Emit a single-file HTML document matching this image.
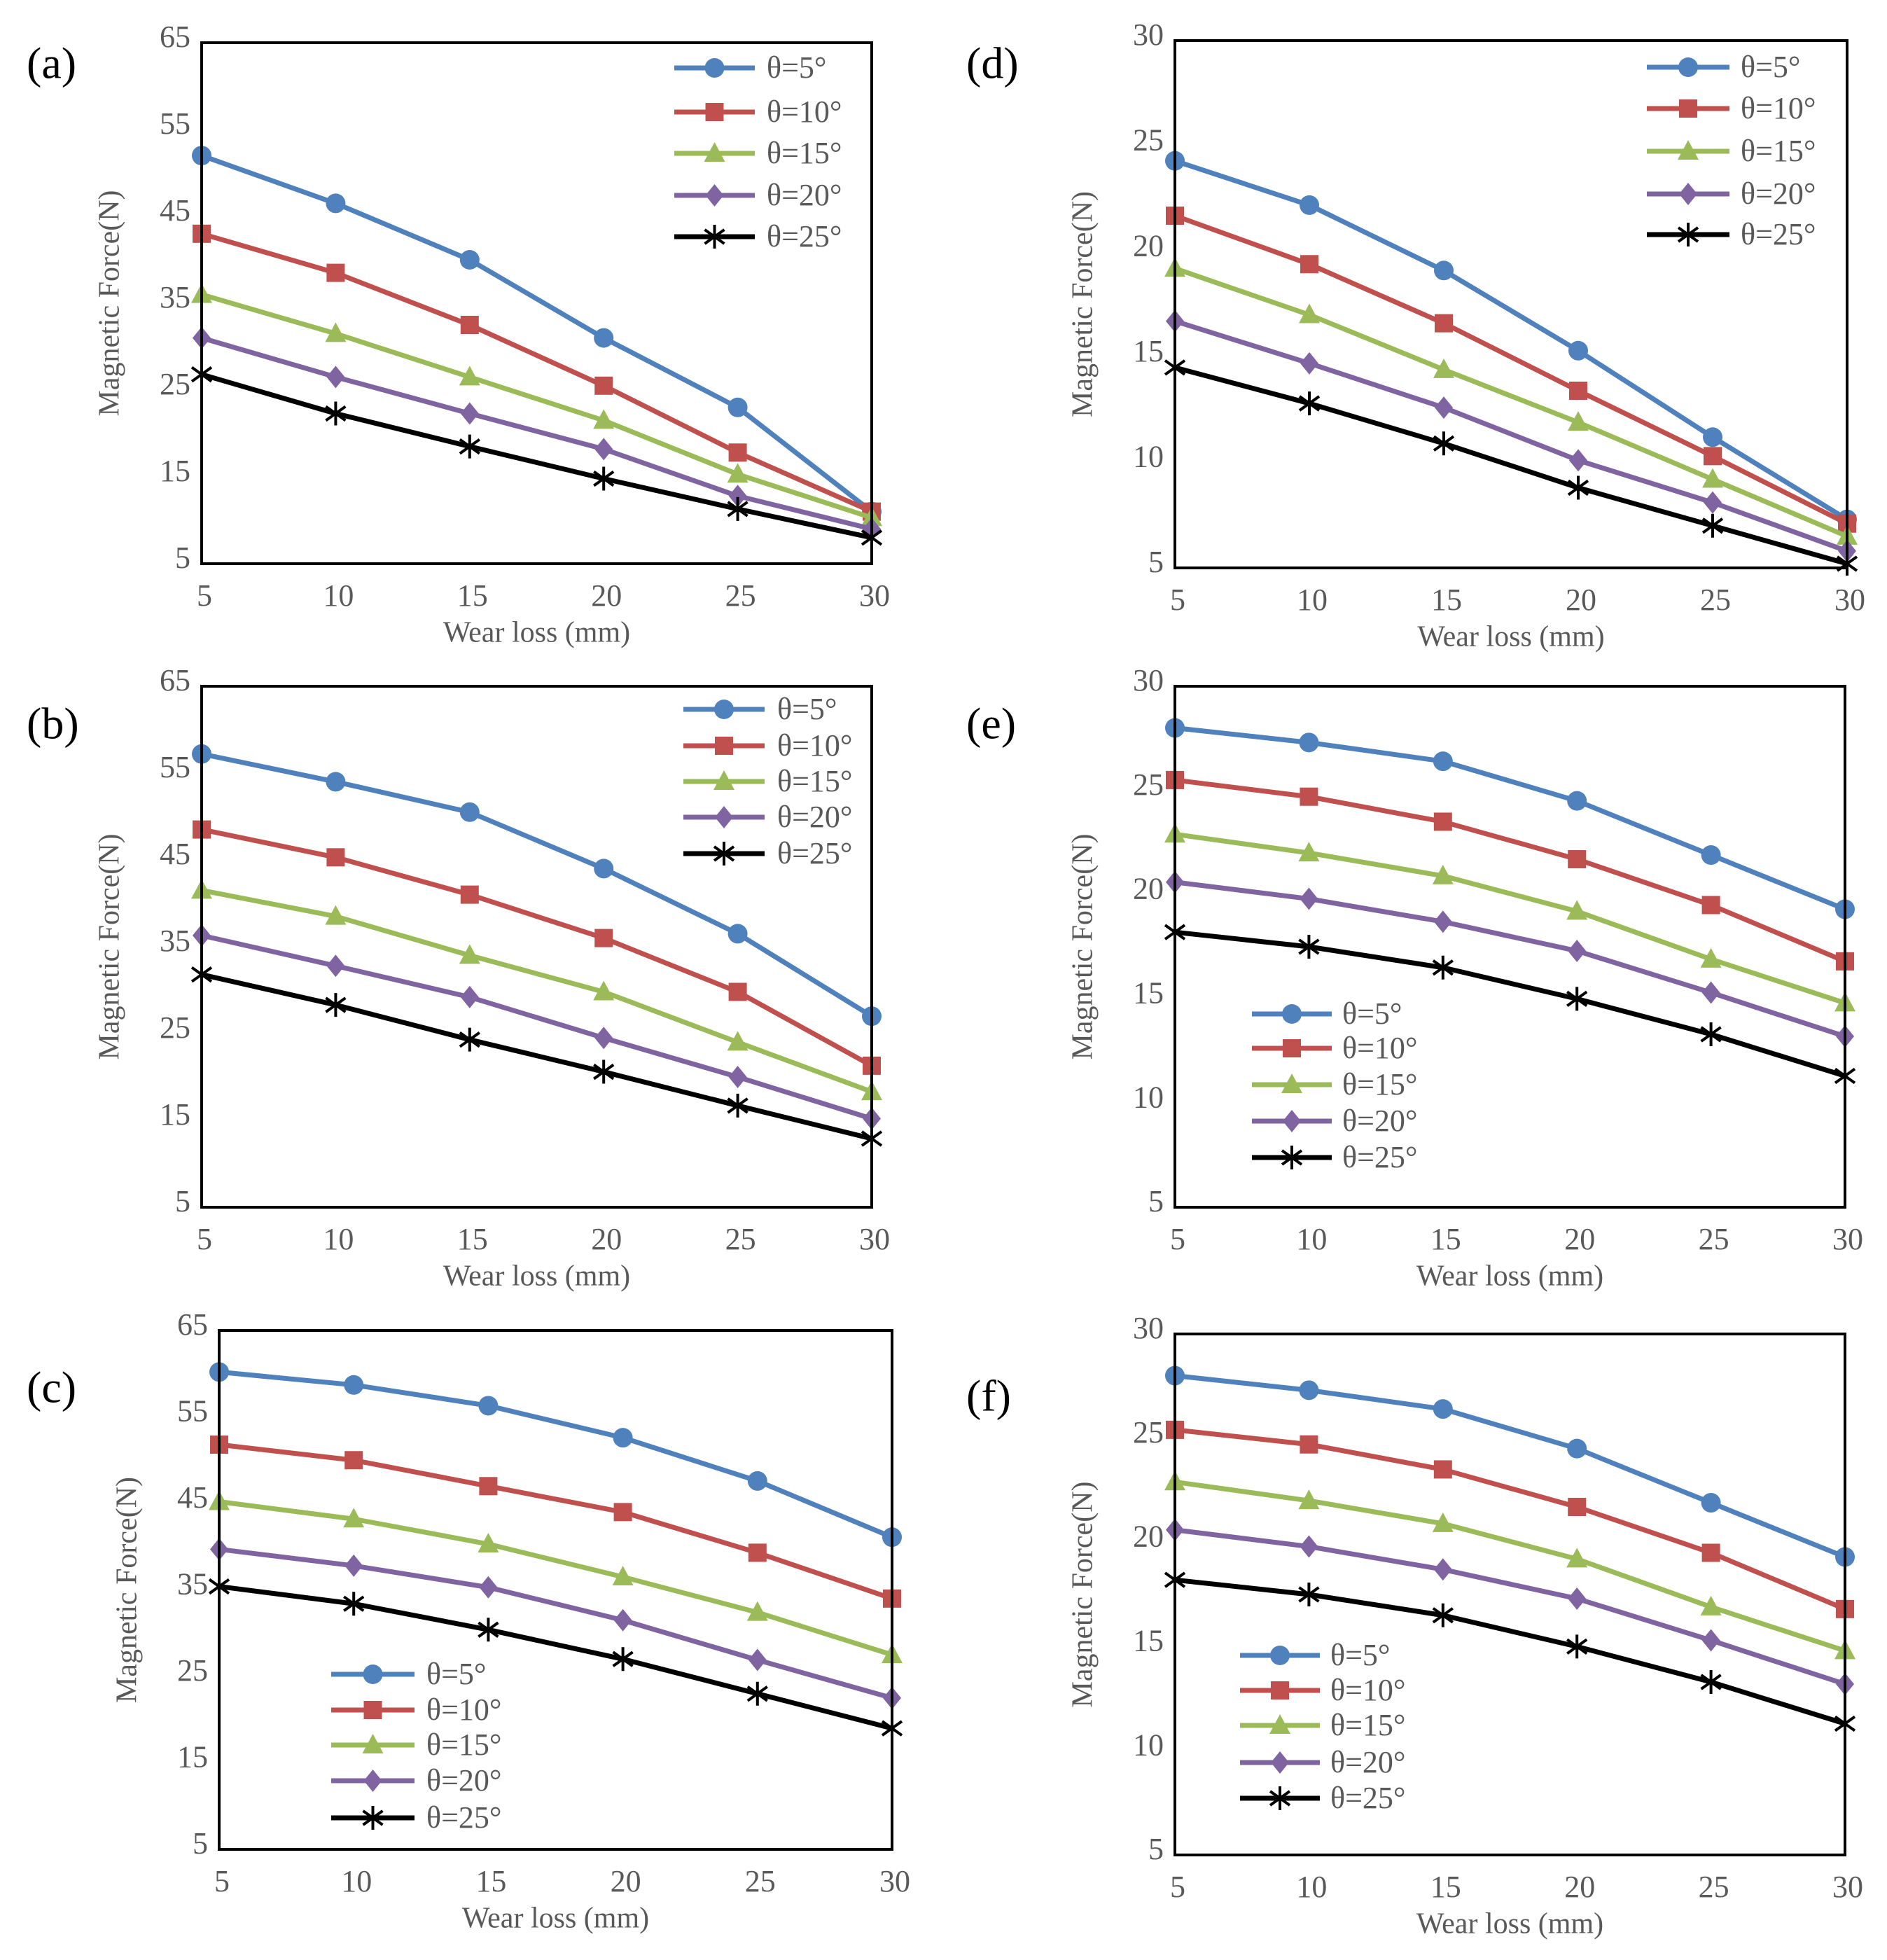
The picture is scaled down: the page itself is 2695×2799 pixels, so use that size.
<!DOCTYPE html>
<html><head><meta charset="utf-8"><style>
html,body{margin:0;padding:0;background:#fff}
svg{display:block}
</style></head><body>
<svg id="fig" width="2695" height="2799" viewBox="0 0 2695 2799" xmlns="http://www.w3.org/2000/svg"></svg>
<script>
const xCategories = [5,10,15,20,25,30];
const seriesLabels = ["θ=5°","θ=10°","θ=15°","θ=20°","θ=25°"];
const yTicksLarge = [5,15,25,35,45,55,65];
const yTicksSmall = [5,10,15,20,25,30];
const dataA5=[52,46.5,40,31,23,11], dataA10=[43,38.5,32.5,25.5,17.8,11], dataA15=[36,31.5,26.5,21.5,15.3,10.3], dataA20=[31,26.5,22.3,18.2,12.8,9], dataA25=[26.8,22.3,18.5,14.8,11.3,8];
const dataB5=[57.2,54,50.5,44,36.5,27], dataB10=[48.5,45.3,41,36,29.8,21.3], dataB15=[41.5,38.5,34,29.8,24,18.3], dataB20=[36.3,32.8,29.2,24.5,20,15.2], dataB25=[31.8,28.3,24.3,20.6,16.7,12.9];
const dataC5=[60.2,58.7,56.3,52.6,47.6,41.1], dataC10=[51.8,50,47,44,39.3,34], dataC15=[45.2,43.2,40.3,36.5,32.4,27.5], dataC20=[39.7,37.8,35.3,31.5,26.9,22.5], dataC25=[35.4,33.4,30.4,27,23,19];
const dataD5=[24.3,22.2,19.1,15.3,11.2,7.3], dataD10=[21.7,19.4,16.6,13.4,10.3,7.1], dataD15=[19.2,17,14.4,11.9,9.2,6.5], dataD20=[16.7,14.7,12.6,10.1,8.1,5.8], dataD25=[14.5,12.8,10.9,8.8,7,5.2];
const dataE5=[28,27.3,26.4,24.5,21.9,19.3], dataE10=[25.5,24.7,23.5,21.7,19.5,16.8], dataE15=[22.9,22,20.9,19.2,16.9,14.8], dataE20=[20.6,19.8,18.7,17.3,15.3,13.2], dataE25=[18.2,17.5,16.5,15,13.3,11.3];
const dataF5=[28,27.3,26.4,24.5,21.9,19.3], dataF10=[25.4,24.7,23.5,21.7,19.5,16.8], dataF15=[22.9,22,20.9,19.2,16.9,14.8], dataF20=[20.6,19.8,18.7,17.3,15.3,13.2], dataF25=[18.2,17.5,16.5,15,13.3,11.3];

const colors=["#4F81BD","#C0504D","#9BBB59","#8064A2","#000000"];
const markers=["circle","square","triangle","diamond","star"];
const NS="http://www.w3.org/2000/svg";
const svg=document.getElementById('fig');
function mk(tag,attrs,parent){const e=document.createElementNS(NS,tag);for(const k in attrs)e.setAttribute(k,attrs[k]);(parent||svg).appendChild(e);return e;}

const panels=[
 {id:'a',x0:288,x1:1245,y0:61,y1:805,ticks:yTicksLarge,data:[dataA5,dataA10,dataA15,dataA20,dataA25],lg:{lx:963,lx2:1078,tx:1095,rows:[97,160,219,279,338]},lab:[38,97]},
 {id:'b',x0:288,x1:1245,y0:980,y1:1724,ticks:yTicksLarge,data:[dataB5,dataB10,dataB15,dataB20,dataB25],lg:{lx:976,lx2:1092,tx:1110,rows:[1013,1065,1116,1167,1219]},lab:[38,1040]},
 {id:'c',x0:313,x1:1274,y0:1900,y1:2641,ticks:yTicksLarge,data:[dataC5,dataC10,dataC15,dataC20,dataC25],lg:{lx:473,lx2:592,tx:609,rows:[2391,2442,2492,2543,2596]},lab:[38,1988]},
 {id:'d',x0:1678,x1:2638,y0:58,y1:811,ticks:yTicksSmall,data:[dataD5,dataD10,dataD15,dataD20,dataD25],lg:{lx:2352,lx2:2470,tx:2486,rows:[96,155,216,277,335]},lab:[1380,97]},
 {id:'e',x0:1678,x1:2635,y0:980,y1:1724,ticks:yTicksSmall,data:[dataE5,dataE10,dataE15,dataE20,dataE25],lg:{lx:1788,lx2:1902,tx:1917,rows:[1448,1497,1549,1601,1653]},lab:[1380,1040]},
 {id:'f',x0:1678,x1:2635,y0:1905,y1:2649,ticks:yTicksSmall,data:[dataF5,dataF10,dataF15,dataF20,dataF25],lg:{lx:1771,lx2:1885,tx:1900,rows:[2364,2414,2464,2517,2568]},lab:[1380,2000]}
];

function drawMarker(g,type,cx,cy,color){
  let e;
  if(type==='circle') e=mk('circle',{cx:cx,cy:cy,r:14,fill:color},g);
  else if(type==='square') e=mk('rect',{x:cx-13,y:cy-13,width:26,height:26,fill:color},g);
  else if(type==='triangle') e=mk('polygon',{points:`${cx},${cy-16} ${cx+15},${cy+12} ${cx-15},${cy+12}`,fill:color},g);
  else if(type==='diamond') e=mk('polygon',{points:`${cx},${cy-16} ${cx+13},${cy} ${cx},${cy+16} ${cx-13},${cy}`,fill:color},g);
  else { e=mk('path',{d:`M${cx-14},${cy-10}L${cx+14},${cy+10}M${cx+14},${cy-10}L${cx-14},${cy+10}M${cx},${cy-17}L${cx},${cy+17}`,stroke:color,'stroke-width':4,fill:'none'},g); }
  
  
}

panels.forEach(p=>{
  const g=mk('g',{});
  
  
  const tmin=p.ticks[0], tmax=p.ticks[p.ticks.length-1];
  const sx=v=>p.x0+(v-xCategories[0])/(xCategories[xCategories.length-1]-xCategories[0])*(p.x1-p.x0);
  const sy=v=>p.y1-(v-tmin)/(tmax-tmin)*(p.y1-p.y0);
  const lab=mk('text',{x:p.lab[0],y:p.lab[1],'font-family':'Liberation Serif, serif','font-size':64,fill:'#000','dominant-baseline':'middle'},g);
  lab.textContent='('+p.id+')';
  
  
  p.ticks.forEach(t=>{
    const tx=mk('text',{x:p.x0-16,y:sy(t)-4,'text-anchor':'end','dominant-baseline':'middle','font-family':'Liberation Serif, serif','font-size':44,fill:'#595959'},g);
    tx.textContent=t;
    
    
  });
  xCategories.forEach(c=>{
    const tx=mk('text',{x:sx(c)+4,y:p.y1+50,'text-anchor':'middle','dominant-baseline':'middle','font-family':'Liberation Serif, serif','font-size':44,fill:'#595959'},g);
    tx.textContent=c;
    
    
  });
  const xt=mk('text',{x:(p.x0+p.x1)/2,y:p.y1+102,'text-anchor':'middle','dominant-baseline':'middle','font-family':'Liberation Serif, serif','font-size':42,fill:'#595959'},g);
  xt.textContent='Wear loss (mm)';
  
  
  const ycx=p.x0-128, ycy=(p.y0+p.y1)/2;
  const yt=mk('text',{x:ycx,y:ycy,'text-anchor':'middle','dominant-baseline':'middle','font-family':'Liberation Serif, serif','font-size':42,fill:'#595959',transform:`rotate(-90 ${ycx} ${ycy})`},g);
  yt.textContent='Magnetic Force(N)';
  
  
  p.data.forEach((arr,si)=>{
    const sg=mk('g',{},g);
    
    
    const pts=arr.map((v,i)=>sx(xCategories[i])+','+sy(v)).join(' ');
    const pl=mk('polyline',{points:pts,fill:'none',stroke:colors[si],'stroke-width':7,'stroke-linejoin':'round'},sg);
    
    
    arr.forEach((v,i)=>drawMarker(sg,markers[si],sx(xCategories[i]),sy(v),colors[si]));
  });
  const box=mk('rect',{x:p.x0,y:p.y0,width:p.x1-p.x0,height:p.y1-p.y0,fill:'none',stroke:'#000','stroke-width':4},g);
  
  
  const lgG=mk('g',{},g);
  
  
  seriesLabels.forEach((s,si)=>{
    const y=p.lg.rows[si];
    const eg=mk('g',{},lgG);
    
    
    mk('line',{x1:p.lg.lx,y1:y,x2:p.lg.lx2,y2:y,stroke:colors[si],'stroke-width':7},eg);
    drawMarker(eg,markers[si],(p.lg.lx+p.lg.lx2)/2,y,colors[si]);
    const t=mk('text',{x:p.lg.tx,y:y+4,'dominant-baseline':'middle','font-family':'Liberation Serif, serif','font-size':44,fill:'#595959'},eg);
    t.textContent=s;
  });
});
</script>
</body></html>
